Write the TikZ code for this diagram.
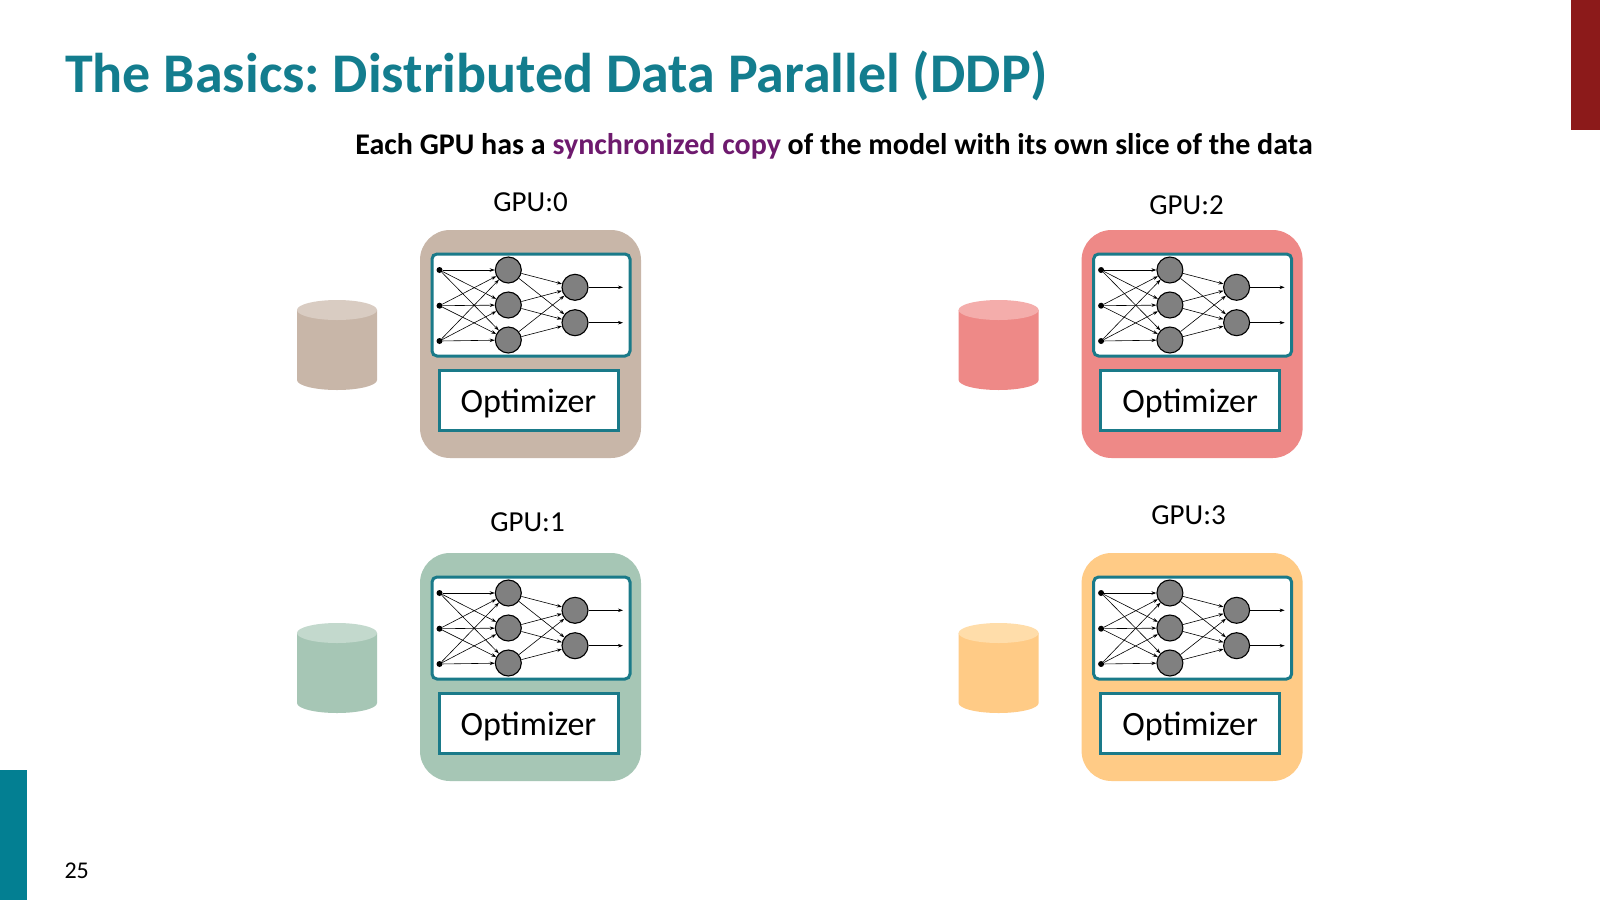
\documentclass[tikz,border=0pt]{standalone}
\usepackage{fontspec}
\setmainfont{Carlito}
\frenchspacing
\usetikzlibrary{arrows.meta}
\definecolor{titleteal}{HTML}{137D8E}
\definecolor{edgeteal}{HTML}{1A7A89}
\definecolor{barteal}{HTML}{037F92}
\definecolor{barred}{HTML}{8C1A1A}
\definecolor{hlpurple}{HTML}{6E1A6E}
\definecolor{nodegray}{HTML}{808080}
\definecolor{tan}{HTML}{C8B6A8}
\definecolor{tantop}{HTML}{D9CCC2}
\definecolor{salmon}{HTML}{EE8987}
\definecolor{salmontop}{HTML}{F4ADAB}
\definecolor{sage}{HTML}{A6C6B5}
\definecolor{sagetop}{HTML}{C3D9CD}
\definecolor{peach}{HTML}{FFCB86}
\definecolor{peachtop}{HTML}{FFDDAA}
\tikzset{
  gpubox/.style={minimum width=221pt, minimum height=228pt, rounded corners=30pt, inner sep=0pt, draw=none},
  netbox/.style={draw=edgeteal, line width=3pt, fill=white, rounded corners=5pt, minimum width=198pt, minimum height=102pt, inner sep=0pt},
  optbox/.style={draw=edgeteal, line width=3pt, fill=white, minimum width=179pt, minimum height=60pt, inner sep=0pt, text height=26pt, text depth=2pt, font=\fontsize{34}{40}\selectfont},
  indot/.style={circle, fill=black, minimum size=6pt, inner sep=0pt},
  hid/.style={circle, draw=black, line width=1.1pt, fill=nodegray, minimum size=26pt, inner sep=0pt},
  conn/.style={line width=0.6pt, -{Stealth[length=5pt,width=3.5pt]}},
  gpulabel/.style={font=\fontsize{29}{34}\selectfont, inner sep=0pt},
}
\newcommand\gpuunit[4]{%
\begin{scope}[shift={(#2,#3)}]
  \fill[#4] (-123,80) -- (-123,150) arc[start angle=180,end angle=0,x radius=40,y radius=10] -- (-43,80) -- cycle;
  \fill[#4top] (-83,80) ellipse[x radius=40,y radius=10];
  \node[gpubox, fill=#4] (#1box) at (110.5,114) {};
  \node[netbox] (#1net) at (111,75) {};
  \node[optbox] (#1opt) at (108.5,170) {Optimizer};
  \foreach \i/\yy in {1/40,2/75.7,3/111} \node[indot] (#1i\i) at (19.5,\yy) {};
  \foreach \j/\yy in {1/40,2/75,3/110} \node[hid] (#1h\j) at (88.3,\yy) {};
  \foreach \k/\yy in {1/57.3,2/92.7} {\node[hid] (#1o\k) at (155,\yy) {}; \coordinate (#1e\k) at (203,\yy);}
  \foreach \i in {1,2,3} {\foreach \j in {1,2,3} {\draw[conn] (#1i\i) -- (#1h\j);}}
  \foreach \j in {1,2,3} {\foreach \k in {1,2} {\draw[conn] (#1h\j) -- (#1o\k);}}
  \foreach \k in {1,2} {\draw[conn] (#1o\k) -- (#1e\k);}
\end{scope}}
\begin{document}
\begin{tikzpicture}[x=1pt,y=-1pt]
\useasboundingbox (0,0) rectangle (1600,900);
\fill[white] (0,0) rectangle (1600,900);
\fill[barred] (1571,0) rectangle (1600,130);
\fill[barteal] (0,770) rectangle (26.7,900);
\node[anchor=base west, inner sep=0pt, text=titleteal, font=\fontsize{56}{62}\selectfont\bfseries] (title) at (65,92) {The Basics: Distributed Data Parallel (DDP)};
\node[anchor=base, inner sep=0pt, font=\fontsize{30}{34}\selectfont\bfseries] (sub) at (834,154) {Each GPU has a \textcolor{hlpurple}{synchronized copy} of the model with its own slice of the data};
\node[anchor=base, inner sep=0pt, font=\fontsize{24}{28}\selectfont] (pnum) at (76.7,878) {25};
\gpuunit{a}{420}{230}{tan}
\gpuunit{b}{420}{553}{sage}
\gpuunit{c}{1081.6}{230}{salmon}
\gpuunit{d}{1081.6}{553}{peach}
\node[gpulabel] (la) at (530.6,201.7) {GPU:0};
\node[gpulabel] (lb) at (527.5,522) {GPU:1};
\node[gpulabel] (lc) at (1186.5,205) {GPU:2};
\node[gpulabel] (ld) at (1188.5,515) {GPU:3};
\end{tikzpicture}
\end{document}
